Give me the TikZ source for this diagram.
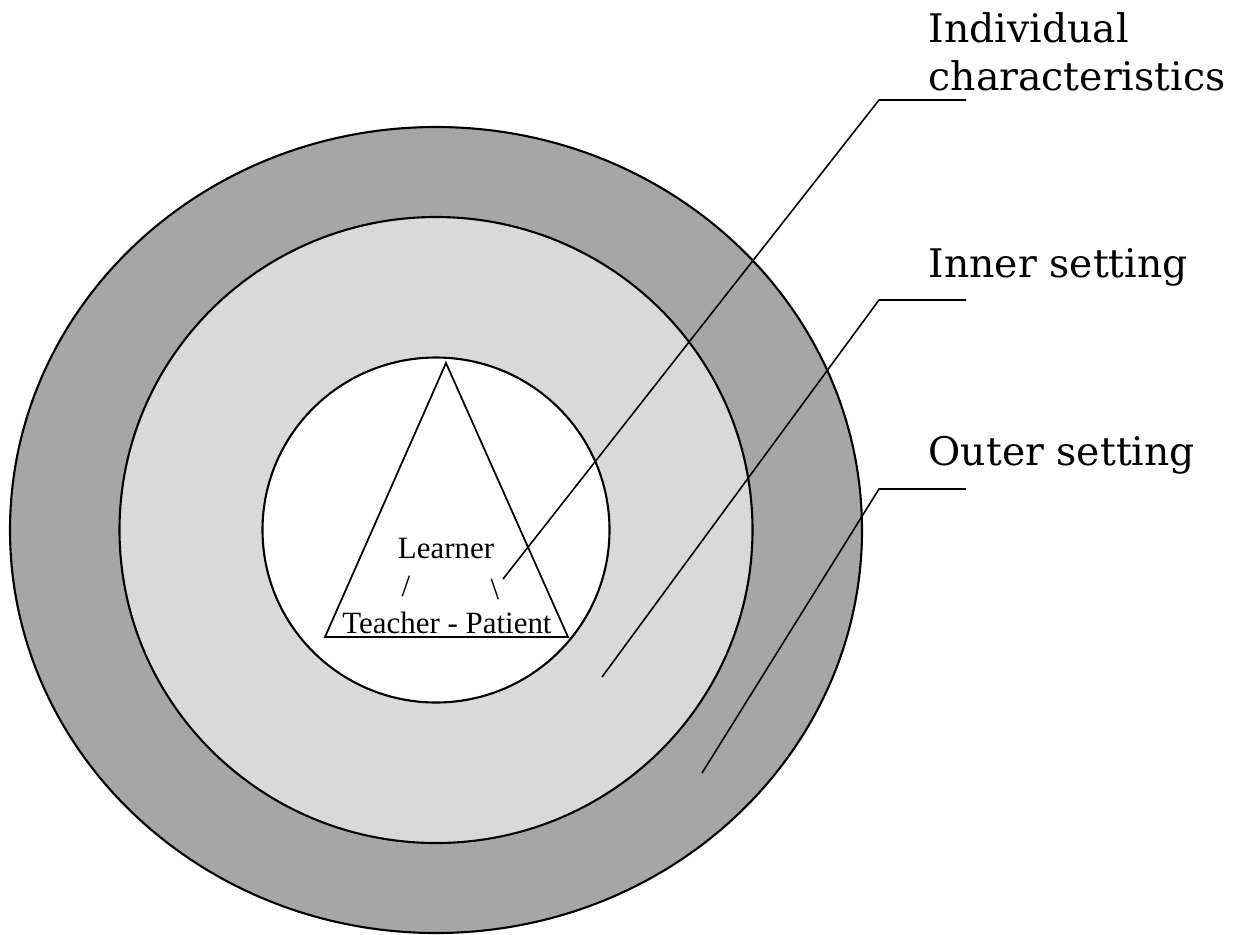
\documentclass[tikz,border=0pt]{standalone}
\usepackage{fontspec}
\newfontfamily\labelfont{DejaVu Serif}
\newfontfamily\innerfont{Liberation Serif}
\usepackage{xcolor}
\definecolor{outerGray}{HTML}{A6A6A6}
\definecolor{innerGray}{HTML}{D9D9D9}
\tikzset{%
	ring/.style={
		draw=black,
		line width=0.6pt
	},
	leader/.style={
		draw=black,
		line width=0.45pt
	},
	setting label/.style={
		font=\fontsize{11.2}{13.6}\selectfont\labelfont,
		anchor=base west,
		align=left,
		inner sep=0pt
	},
	dyad label/.style={
		font=\fontsize{8.8}{10}\selectfont\innerfont,
		anchor=base,
		inner sep=0pt
	},
}
\begin{document}
\begin{tikzpicture}
			\useasboundingbox (0,0) rectangle (12.33,9.34);
			\coordinate (centre) at (4.36,4.04);
			
			% Draw the three settings
			\draw[ring, fill=outerGray] (centre) ellipse [x radius=4.26, y radius=4.03];
			\draw[ring, fill=innerGray] (centre) ellipse [x radius=3.165, y radius=3.13];
			\draw[ring, fill=white] (centre) ellipse [x radius=1.735, y radius=1.725];
			
			% Draw the triangle
			\draw[line width=0.5pt] (4.46,5.71) -- (3.25,2.97) -- (5.68,2.97) -- cycle;
			
			% Draw the dyad texts
			\node[dyad label] (learner) at (4.46,3.76) {Learner};
			\node[dyad label] (slashLeft) at (4.06,3.38) {/};
			\node[dyad label] (slashRight) at (4.95,3.35) {\textbackslash};
			\node[dyad label] (dyad) at (4.47,3.01) {Teacher - Patient};
			
			% Draw the labels on the right
			\node[setting label] (indivLabel) at (9.28,8.44) {Individual\\characteristics};
			\node[setting label] (innerLabel) at (9.28,6.57) {Inner setting};
			\node[setting label] (outerLabel) at (9.28,4.69) {Outer setting};
			
			% Points of the leader lines
			\coordinate (indivPt) at (5.03,3.55);
			\coordinate (indivBend) at (8.79,8.34);
			\coordinate (indivEnd) at (9.66,8.34);
			\coordinate (innerPt) at (6.02,2.57);
			\coordinate (innerBend) at (8.79,6.34);
			\coordinate (innerEnd) at (9.66,6.34);
			\coordinate (outerPt) at (7.02,1.61);
			\coordinate (outerBend) at (8.79,4.45);
			\coordinate (outerEnd) at (9.66,4.45);
			
			% Draw the leader lines
			\draw[leader] (indivPt) -- (indivBend) -- (indivEnd);
			\draw[leader] (innerPt) -- (innerBend) -- (innerEnd);
			\draw[leader] (outerPt) -- (outerBend) -- (outerEnd);
			
		\end{tikzpicture}
\end{document}
